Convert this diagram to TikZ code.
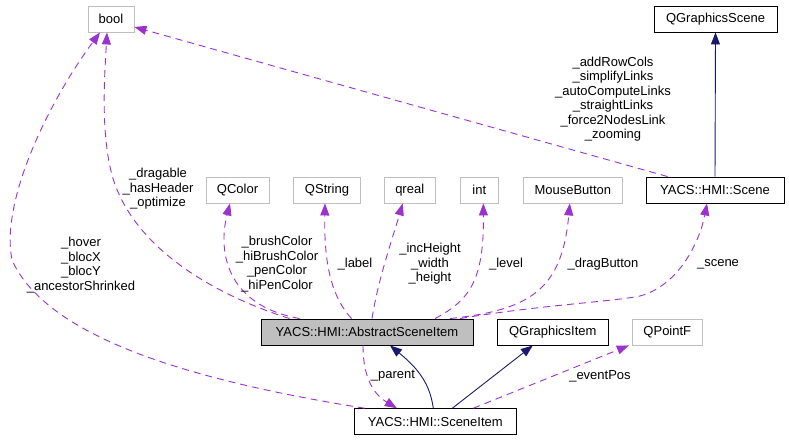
\documentclass[tikz,border=0pt]{standalone}
\usepackage{fontspec}
\setmainfont{Liberation Sans}
\usetikzlibrary{arrows.meta,calc}
\definecolor{boxgray}{HTML}{BFBFBF}
\definecolor{fillgray}{HTML}{BFBFBF}
\definecolor{relpurple}{HTML}{9A32CD}
\definecolor{inhnavy}{HTML}{191970}
\begin{document}
\begin{tikzpicture}[x=1pt,y=-1pt,
  every node/.style={font=\fontsize{13}{14.5}\selectfont},
  cls/.style={draw=black,line width=0.9pt,fill=white,rectangle,minimum height=26pt,inner sep=0pt},
  ext/.style={cls,draw=boxgray},
  cur/.style={cls,fill=fillgray},
  usage/.style={draw=relpurple,line width=0.9pt,dash pattern=on 7pt off 5pt,-{Triangle[length=12pt,width=9pt,fill=relpurple]}},
  inherit/.style={draw=inhnavy,line width=0.9pt,-{Triangle[length=12pt,width=9pt,fill=inhnavy]}},
  lbl/.style={align=center,inner sep=0pt}
]
\useasboundingbox (0,0) rectangle (789,440);
% nodes
\node[ext,minimum width=46pt] (bool) at (111,19) {bool};
\node[cls,minimum width=123pt] (qgs) at (715.5,19) {QGraphicsScene};
\node[ext,minimum width=63pt] (qcolor) at (237.5,190) {QColor};
\node[ext,minimum width=67pt] (qstring) at (327,190) {QString};
\node[ext,minimum width=51pt] (qreal) at (409.7,190) {qreal};
\node[ext,minimum width=38pt] (int) at (479.3,190) {int};
\node[ext,minimum width=99pt] (mouse) at (572.8,190) {MouseButton};
\node[cls,minimum width=138pt] (scene) at (715,190) {YACS::HMI::Scene};
\node[cur,minimum width=212pt] (asi) at (367,332) {YACS::HMI::AbstractSceneItem};
\node[cls,minimum width=111pt] (qgi) at (552.8,332) {QGraphicsItem};
\node[ext,minimum width=70pt] (qpf) at (667.3,332) {QPointF};
\node[cls,minimum width=162pt] (si) at (435.3,421.7) {YACS::HMI::SceneItem};
% connectors
\draw[usage] ([xshift=29pt]asi.north west) .. controls (200,290) and (130,240) .. (112,175) .. controls (100,130) and (105,70) .. ([xshift=-4pt]bool.south);
\draw[usage] ([xshift=11pt]si.north west) .. controls (220,385) and (50,345) .. (12,260) .. controls (0,200) and (50,100) .. ([xshift=-11pt]bool.south);
\draw[usage] ([xshift=22pt]scene.north west) -- ([yshift=-8pt]bool.east);
\draw[inherit] (scene.north) -- (qgs.south);
\draw[usage] ([xshift=39pt]asi.north west) .. controls (225,305) and (218,250) .. ([xshift=-7.5pt]qcolor.south);
\draw[usage] ([xshift=91pt]asi.north west) .. controls (330,295) and (324,260) .. ([xshift=-2pt]qstring.south);
\draw[usage] ([xshift=5pt]asi.north) .. controls (378,280) and (392,240) .. ([xshift=-7pt]qreal.south);
\draw[usage] ([xshift=68pt]asi.north) .. controls (470,300) and (484,280) .. ([xshift=4pt]int.south);
\draw[usage] ([xshift=83pt]asi.north) .. controls (530,310) and (562,290) .. ([xshift=-3pt]mouse.south);
\draw[usage] ([xshift=93pt]asi.north) .. controls (540,305) and (610,302) .. (640,296) .. controls (680,285) and (700,240) .. ([xshift=-8pt]scene.south);
\draw[usage] ([xshift=-4pt]asi.south) .. controls (363,380) and (375,395) .. ([xshift=43pt]si.north west);
\draw[inherit] ([xshift=-2pt]si.north) .. controls (430,385) and (420,370) .. ([xshift=23pt]asi.south);
\draw[inherit] ([xshift=17pt]si.north) -- ([xshift=-20pt]qgi.south);
\draw[usage] ([xshift=38pt]si.north) -- ([xshift=-3pt]qpf.south west);
% labels
\node[lbl] (ldrag) at (158,189) {\_dragable\\\_hasHeader\\\_optimize};
\node[lbl] (lhover) at (81,265) {\_hover\\\_blocX\\\_blocY\\\_ancestorShrinked};
\node[lbl] (lscn) at (613,99) {\_addRowCols\\\_simplifyLinks\\\_autoComputeLinks\\\_straightLinks\\\_force2NodesLink\\\_zooming};
\node[lbl] (lcolor) at (277,264) {\_brushColor\\\_hiBrushColor\\\_penColor\\\_hiPenColor};
\node[lbl] (llabel) at (355,264) {\_label};
\node[lbl] (lreal) at (430,264) {\_incHeight\\\_width\\\_height};
\node[lbl] (llevel) at (506,264) {\_level};
\node[lbl] (ldragb) at (603,264) {\_dragButton};
\node[lbl] (lscene) at (718,264) {\_scene};
\node[lbl] (lparent) at (393,376) {\_parent};
\node[lbl] (levent) at (600,376) {\_eventPos};
\end{tikzpicture}
\end{document}
